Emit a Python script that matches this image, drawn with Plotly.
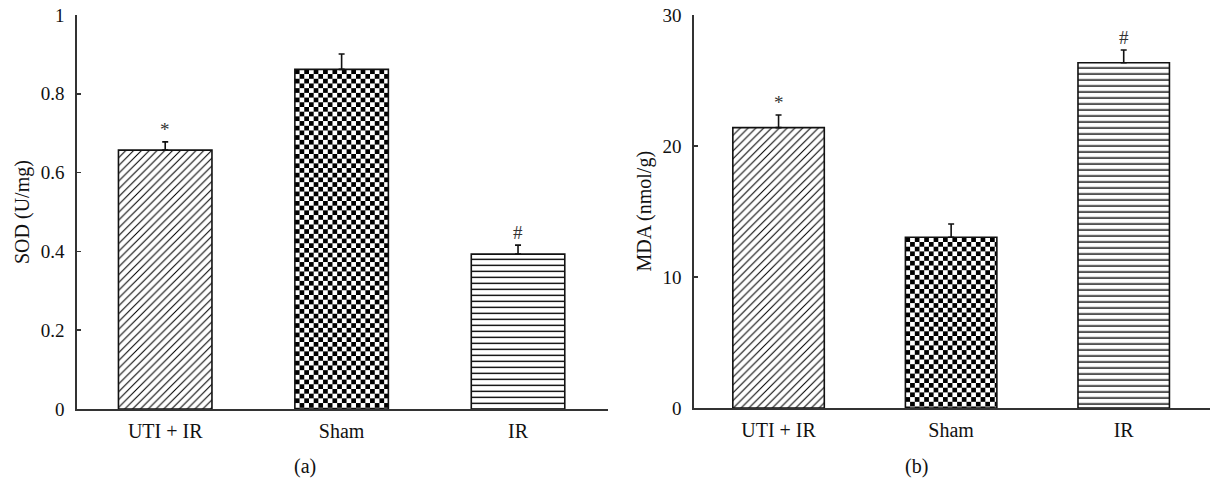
import base64
import plotly.graph_objects as go

# ---------------- data ----------------
categories = ["UTI + IR", "Sham", "IR"]
sod_values = [0.657, 0.862, 0.393]
sod_errors = [0.021, 0.039, 0.023]
mda_values = [21.4, 13.03, 26.36]
mda_errors = [0.97, 1.02, 0.97]
sig_marks = ["*", "", "#"]
sod_ticks = [0, 0.2, 0.4, 0.6, 0.8, 1]
mda_ticks = [0, 10, 20, 30]
panel_labels = ["(a)", "(b)"]
y_titles = ["SOD (U/mg)", "MDA (nmol/g)"]
fills = ["diagonal", "checker", "horizontal"]

# ---------------- layout geometry (pixels) ----------------
W, H = 1212, 482
FONT = "Liberation Serif, Times New Roman, serif"
INK = "#111"
BAR_W = 0.53
xpos = list(range(len(categories)))

panels = [
    dict(xd=(77, 608), yd=(409, 15), xr=(-0.5, 2.51), yr=(0, 1),
         vals=sod_values, errs=sod_errors, ticks=sod_ticks, tx=22, lx=305),
    dict(xd=(694, 1210), yd=(408, 15), xr=(-0.49, 2.5), yr=(0, 30),
         vals=mda_values, errs=mda_errors, ticks=mda_ticks, tx=644, lx=916),
]


def fill_uri(kind, wpx, hpx):
    if kind == "checker":
        p = 9.4
        s = p / 2
        tile = (f'<rect width="{p}" height="{p}" fill="white"/>'
                f'<rect width="{s}" height="{s}" fill="black"/>'
                f'<rect x="{s}" y="{s}" width="{s}" height="{s}" fill="black"/>')
        pw, ph = p, p
    elif kind == "diagonal":
        p = 7.8
        tile = (f'<rect width="{p}" height="{p}" fill="white"/>'
                f'<path d="M-1,1 L1,-1 M0,{p} L{p},0 M{p - 1},{p + 1} L{p + 1},{p - 1}" '
                f'stroke="black" stroke-width="1.05"/>')
        pw, ph = p, p
    else:  # horizontal
        p = 6.0
        t = 1.4
        tile = (f'<rect width="10" height="{p}" fill="white"/>'
                f'<rect y="{p - t}" width="10" height="{t}" fill="black"/>')
        pw, ph = 10, p
    svg = (f'<svg xmlns="http://www.w3.org/2000/svg" width="{wpx:.1f}" height="{hpx:.1f}" '
           f'viewBox="0 0 {wpx:.2f} {hpx:.2f}" preserveAspectRatio="none">'
           f'<defs><pattern id="f" width="{pw}" height="{ph}" patternUnits="userSpaceOnUse">'
           f'{tile}</pattern></defs><rect width="100%" height="100%" fill="url(#f)"/></svg>')
    return "data:image/svg+xml;base64," + base64.b64encode(svg.encode()).decode()


fig = go.Figure()
annotations = []
images = []

for i, p in enumerate(panels):
    n = "" if i == 0 else str(i + 1)
    xa, ya = "x" + n, "y" + n
    fig.add_trace(go.Bar(
        x=xpos, y=p["vals"], width=BAR_W,
        xaxis=xa, yaxis=ya,
        marker=dict(color="rgba(0,0,0,0)", line=dict(color="#111", width=1.6)),
        error_y=dict(type="data", array=p["errs"], arrayminus=[0] * len(xpos),
                     symmetric=False, color="#111", thickness=1.6, width=3),
        showlegend=False, hoverinfo="skip",
    ))
    # pattern fills placed in data coordinates under each bar
    px_per_x = (p["xd"][1] - p["xd"][0]) / (p["xr"][1] - p["xr"][0])
    px_per_y = (p["yd"][0] - p["yd"][1]) / (p["yr"][1] - p["yr"][0])
    for xi, val, kind in zip(xpos, p["vals"], fills):
        images.append(dict(
            source=fill_uri(kind, BAR_W * px_per_x, val * px_per_y),
            xref=xa, yref=ya, x=xi - BAR_W / 2, y=val,
            sizex=BAR_W, sizey=val, xanchor="left", yanchor="top",
            sizing="stretch", layer="below",
        ))
    # significance marks
    for xi, val, err, mark in zip(xpos, p["vals"], p["errs"], sig_marks):
        if mark:
            annotations.append(dict(
                x=xi, y=val + err, xref=xa, yref=ya, text=mark, showarrow=False,
                xanchor="center", yanchor="bottom", yshift=0,
                font=dict(family=FONT, size=19, color="#333"),
            ))
    # y-axis title
    annotations.append(dict(
        x=p["tx"] / W, y=1 - ((p["yd"][0] + p["yd"][1]) / 2) / H, xref="paper", yref="paper",
        xanchor="center", yanchor="middle",
        text=y_titles[i], textangle=-90, showarrow=False,
        font=dict(family=FONT, size=20, color=INK),
    ))
    # panel label
    annotations.append(dict(
        x=p["lx"] / W, y=1 - 466 / H, xref="paper", yref="paper",
        xanchor="center", yanchor="middle",
        text=panel_labels[i], showarrow=False,
        font=dict(family=FONT, size=20, color=INK),
    ))
    xdom = [p["xd"][0] / W, p["xd"][1] / W]
    ydom = [1 - p["yd"][0] / H, 1 - p["yd"][1] / H]
    fig.layout["xaxis" + n] = dict(
        domain=xdom, range=list(p["xr"]), anchor=ya,
        tickvals=xpos, ticktext=categories, ticks="",
        showline=True, linecolor="#333", linewidth=1.6,
        showgrid=False, zeroline=False, ticklabelstandoff=3,
        tickfont=dict(family=FONT, size=20, color=INK), fixedrange=True,
    )
    fig.layout["yaxis" + n] = dict(
        domain=ydom, range=list(p["yr"]), anchor=xa,
        tickvals=p["ticks"], ticks="inside", ticklen=4, tickwidth=1.5, tickcolor="#333",
        showline=True, linecolor="#333", linewidth=1.6,
        showgrid=False, zeroline=False, ticklabelstandoff=7,
        tickfont=dict(family=FONT, size=19, color=INK), fixedrange=True,
    )

fig.update_layout(
    width=W, height=H, margin=dict(l=0, r=0, t=0, b=0, autoexpand=False),
    paper_bgcolor="white", plot_bgcolor="white",
    annotations=annotations, images=images, bargap=0,
)

fig.write_html(
    "out.html",
    config={"displayModeBar": False, "staticPlot": True},
    post_script="document.body.style.margin='0';document.body.style.overflow='hidden';",
)
